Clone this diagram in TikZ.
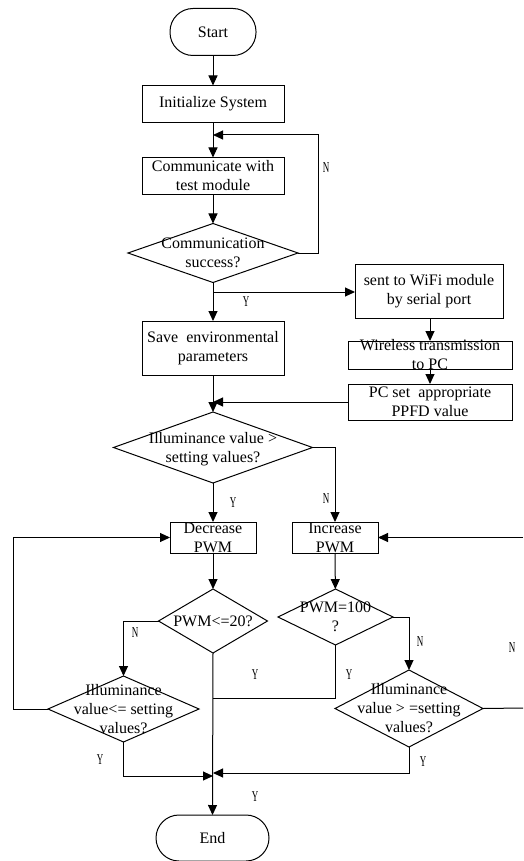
\documentclass[tikz,border=0pt]{standalone}
\usepackage{fontspec}
\setmainfont{Liberation Serif}
\usetikzlibrary{arrows.meta,shapes.geometric}
\tikzset{
  stepbox/.style={draw, rectangle, line width=1pt, inner sep=0pt, outer sep=0pt},
  term/.style={stepbox, rounded corners=23pt},
  dia/.style={draw, diamond, line width=1pt, inner sep=0pt, outer sep=0pt},
  txt/.style={align=center, inner sep=0pt, font=\fontsize{16}{19}\selectfont},
  yn/.style={inner sep=0pt, font=\fontsize{15}{15}\selectfont},
  conn/.style={line width=1pt},
  arr/.style={conn, -{Triangle[length=10pt,width=9pt]}},
}
\begin{document}
\begin{tikzpicture}[x=1pt,y=-1pt]
\useasboundingbox (0,0) rectangle (523,861);
\clip (0,0) rectangle (523,861);
% shapes
\node[term, minimum width=86, minimum height=47] (start) at (213,32) {};
\node[stepbox, minimum width=142, minimum height=37] (init) at (213,104) {};
\node[stepbox, minimum width=142, minimum height=37] (comm) at (213,176) {};
\node[dia, minimum width=170, minimum height=59] (commd) at (213,253) {};
\node[stepbox, minimum width=142, minimum height=54] (save) at (213,348) {};
\node[stepbox, minimum width=148, minimum height=54] (wifi) at (429,291) {};
\node[stepbox, minimum width=164, minimum height=28] (wl) at (430,355) {};
\node[stepbox, minimum width=164, minimum height=36] (pc) at (430,402) {};
\node[dia, minimum width=199, minimum height=71] (illd) at (213,447.5) {};
\node[stepbox, minimum width=86, minimum height=31] (dec) at (213,537.5) {};
\node[stepbox, minimum width=86, minimum height=31] (inc) at (335,537.5) {};
\node[dia, minimum width=109, minimum height=64] (p20) at (213,621) {};
\node[dia, minimum width=115, minimum height=56] (p100) at (335.5,617) {};
\node[dia, minimum width=151, minimum height=66] (il3) at (123.5,709) {};
\node[dia, minimum width=148, minimum height=77] (il4) at (409,708.5) {};
\node[term, minimum width=113, minimum height=46] (end) at (212.5,838) {};
% texts
\node[txt] (start-t) at (start) {Start};
\node[txt] (init-t) at (init) {Initialize System};
\node[txt] (comm-t) at (comm) {Communicate with\\test module};
\node[txt] (commd-t) at (commd) {Communication\\success?};
\node[txt] (save-t) at (save) {Save\ \ environmental\\parameters};
\node[txt] (wifi-t) at (wifi) {sent to WiFi module\\by serial port};
\node[txt] (wl-t) at (wl) {Wireless transmission\\to PC};
\node[txt] (pc-t) at (pc) {PC set\ \ appropriate\\PPFD value};
\node[txt] (illd-t) at (213,449) {Illuminance value >\\setting values?};
\node[txt] (dec-t) at (dec) {Decrease\\PWM};
\node[txt] (inc-t) at (inc) {Increase\\PWM};
\node[txt] (p20-t) at (p20) {PWM<=20?};
\node[txt] (p100-t) at (p100) {PWM=100\\?};
\node[txt] (il3-t) at (il3) {Illuminance\\value<= setting\\values?};
\node[txt] (il4-t) at (il4) {Illuminance\\value > =setting\\values?};
\node[txt] (end-t) at (end) {End};
% coordinates
\coordinate (fbR) at (318,135);
\coordinate (fbJ) at (213,135);
\coordinate (j1) at (213,292);
\coordinate (lft) at (13,537.5);
\coordinate (rgt) at (523,537.5);
\coordinate (rgtb) at (523,708);
\coordinate (mjL) at (213,776);
\coordinate (mjR) at (213,773);
\coordinate (mj100) at (213,698);
% connectors
\draw[arr] (start) -- (init);
\draw[arr] (init) -- (comm);
\draw[arr] (commd.east) -| (fbR) -- (fbJ);
\draw[arr] (comm) -- (commd);
\draw[conn] (commd.south) -- (j1);
\draw[arr] (j1) -- (save.north);
\draw[arr] (j1) -- (j1 -| wifi.west);
\draw[arr] (wifi.south -| wl.north) -- (wl.north);
\draw[arr] (wl) -- (pc);
\draw[arr] (save) -- (illd);
\draw[arr] (pc.west) -- (pc.west -| save);
\draw[arr] (illd) -- (dec);
\draw[arr] (illd.east) -| (inc.north);
\draw[arr] (dec) -- (p20);
\draw[arr] (inc) -- (p100);
\draw[arr] (p20.west) -| (il3.north);
\draw[arr] (il3.west) -| (lft) -- (dec.west);
\draw[arr] (il3.south) |- (mjL);
\draw[arr] (p20.south) -- (end.north);
\draw[conn] (p100.south) |- (mj100);
\draw[arr] (p100.east) -| (il4.north);
\draw[conn] (il4.east) -- (rgtb);
\draw[arr] (rgt) -- (inc.east);
\draw[arr] (il4.south) |- (mjR);
% Y/N labels
\node[yn] (n1) at (326,168) {\scalebox{0.6}[1]{N}};
\node[yn] (y1) at (246,302) {\scalebox{0.6}[1]{Y}};
\node[yn] (y2) at (233,503) {\scalebox{0.6}[1]{Y}};
\node[yn] (n2) at (326,499) {\scalebox{0.6}[1]{N}};
\node[yn] (n3) at (135,633) {\scalebox{0.6}[1]{N}};
\node[yn] (y3) at (255,675) {\scalebox{0.6}[1]{Y}};
\node[yn] (y4) at (349,675) {\scalebox{0.6}[1]{Y}};
\node[yn] (n4) at (420,642) {\scalebox{0.6}[1]{N}};
\node[yn] (n5) at (512,648) {\scalebox{0.6}[1]{N}};
\node[yn] (y5) at (100,760) {\scalebox{0.6}[1]{Y}};
\node[yn] (y6) at (423,762) {\scalebox{0.6}[1]{Y}};
\node[yn] (y7) at (255,797) {\scalebox{0.6}[1]{Y}};
\end{tikzpicture}
\end{document}
